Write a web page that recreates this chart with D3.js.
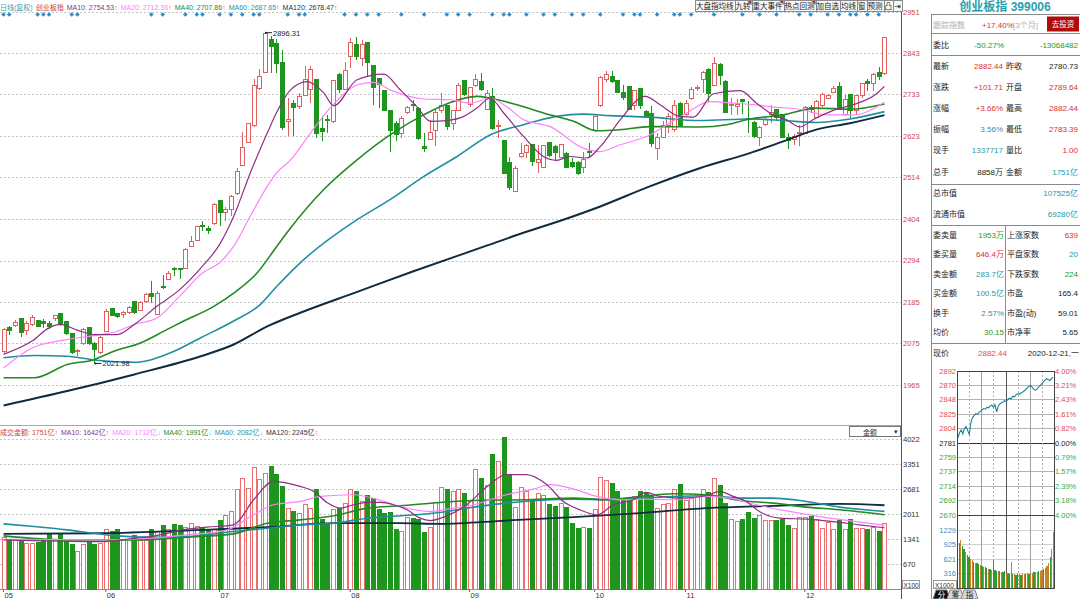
<!DOCTYPE html>
<html><head><meta charset="utf-8">
<script src="https://cdn.jsdelivr.net/npm/d3@7"></script>
<style>
html,body{margin:0;padding:0;background:#fff;overflow:hidden}
svg{display:block;font-family:'Liberation Sans','Noto Sans CJK SC',sans-serif}
</style></head><body>
<script>
// ---------------- 日K数据 2020-05-06 ~ 2020-12-21 ----------------
var opens=[2054,2116,2122,2141,2110,2125,2135,2133,2127,2142, 2154,2132,2101,2053,2074,2116,2075,2050,2107,2166,
 2154,2152,2156,2186,2163,2186,2206,2151,2226,2245, 2274,2273,2274,2332,2347,2386,2379,2391,2452,2421,
 2430,2472,2545,2607,2650,2748,2792,2879,2868,2817, 2662,2710,2702,2729,2745,2772,2642,2668,2662,2785,
 2747,2833,2866,2829,2870,2809,2776,2743,2691,2657, 2629,2685,2706,2697,2596,2615,2638,2691,2703,2655,
 2691,2770,2706,2758,2767,2692,2728,2648,2611,2552, 2477,2569,2580,2600,2553,2541,2606,2595,2567,2576,
 2553,2553,2541,2582,2638,2703,2772,2780,2770,2738, 2754,2703,2748,2688,2682,2589,2620,2650,2640,2710,
 2679,2723,2749,2772,2800,2757,2813,2766,2704,2701, 2719,2670,2659,2618,2653,2679,2692,2679,2619,2615,
 2629,2631,2699,2673,2703,2723,2738,2754,2679,2732, 2691,2729,2766,2761,2791,2789.64];
var highs=[2115,2120,2138,2142,2134,2149,2138,2140,2134,2151, 2156,2134,2103,2059,2116,2119,2078,2094,2166,2169,
 2156,2160,2173,2188,2186,2208,2239,2213,2257,2266, 2276,2274,2327,2360,2386,2399,2384,2446,2455,2435,
 2468,2538,2633,2657,2773,2800,2896.31,2888,2880,2851, 2723,2719,2736,2807,2809,2773,2675,2679,2772,2789,
 2820,2882,2885,2877,2873,2811,2776,2745,2692,2662, 2675,2703,2719,2699,2631,2666,2691,2738,2706,2692,
 2763,2772,2754,2787,2791,2745,2750,2666,2613,2569, 2543,2604,2603,2603,2600,2600,2608,2600,2603,2580,
 2565,2556,2580,2604,2677,2782,2796,2796,2772,2758, 2756,2745,2750,2691,2703,2631,2662,2684,2719,2714,
 2719,2754,2758,2794,2802,2831,2816,2770,2723,2721, 2721,2717,2662,2650,2673,2706,2694,2682,2631,2629,
 2653,2703,2706,2719,2738,2735,2756,2767,2732,2735, 2732,2763,2773,2791,2805,2882.44];
var lows=[2050,2098,2119,2092,2096,2122,2119,2116,2112,2134, 2120,2098,2046,2041,2072,2072,2021.98,2047,2105,2147,
 2142,2142,2154,2154,2160,2182,2182,2149,2219,2242, 2252,2245,2272,2330,2345,2371,2364,2389,2384,2399,
 2411,2468,2543,2604,2648,2745,2791,2791,2789,2640, 2622,2622,2695,2728,2710,2618,2609,2631,2657,2738,
 2745,2802,2824,2807,2780,2706,2697,2688,2582,2609, 2618,2682,2688,2613,2582,2613,2596,2684,2638,2640,
 2688,2729,2701,2754,2741,2691,2640,2618,2523,2481, 2475,2565,2565,2543,2525,2538,2569,2556,2565,2538,
 2538,2521,2525,2569,2635,2699,2767,2763,2736,2719, 2691,2691,2694,2670,2594,2560,2618,2631,2635,2647,
 2677,2719,2743,2736,2714,2756,2758,2684,2679,2679, 2682,2631,2618,2596,2650,2657,2666,2618,2589,2600,
 2596,2629,2684,2670,2699,2721,2736,2691,2677,2670, 2679,2723,2741,2741,2770,2783.39];
var closes=[2113,2110,2129,2105,2127,2144,2120,2127,2119,2149, 2125,2101,2050,2056,2113,2075,2059,2090,2160,2149,
 2145,2156,2169,2156,2184,2204,2198,2207,2222,2261, 2270,2271,2323,2345,2383,2383,2374,2442,2421,2428,
 2464,2530,2594,2655,2758,2780,2893,2861,2816,2647, 2666,2699,2728,2772,2800,2631,2636,2664,2770,2745,
 2796,2870,2833,2864,2817,2752,2760,2691,2638,2626, 2670,2699,2703,2616,2591,2633,2685,2703,2648,2691,
 2758,2732,2751,2773,2747,2735,2644,2651,2525,2486, 2538,2576,2597,2556,2560,2597,2571,2580,2601,2541,
 2543,2525,2560,2579,2675,2779,2787,2767,2738,2726, 2694,2743,2703,2675,2603,2620,2650,2675,2703,2650,
 2710,2745,2752,2791,2735,2816,2782,2685,2706,2706, 2715,2666,2622,2647,2668,2685,2673,2620,2611,2622,
 2633,2699,2692,2714,2732,2729,2750,2694,2721,2691, 2729,2761,2763,2787,2780.73,2882.44];
// 成交金额(亿)
var amounts=[1388,1316,1316,1271,1226,1208,1244,1298,1450,1316, 1495,1271,1181,1002,1181,1271,1181,1208,1603,1540,
 1585,1316,1316,1424,1298,1298,1603,1540,1702,1585, 1720,1702,1657,1765,1675,1657,1585,1603,1836,1962,
 2079,2680,2976,2707,3245,2931,3093,3290,3066,2752, 2168,2079,2034,2258,2168,2662,1854,1765,2124,2168,
 2303,2662,2617,2348,2500,2438,2124,2034,2052,1585, 1540,1926,1899,1854,1522,1657,2321,2734,2680,2617,
 2680,2572,2375,3200,2976,2770,3604,3425,4053,3066, 2195,2734,2617,2348,2572,2500,2258,2213,2285,2186,
 1747,1630,1657,1612,2141,3003,2913,2823,2617,2393, 2438,2482,2617,2554,2482,2168,2258,2285,2680,2796,
 2375,2438,2482,2680,2590,2976,2770,2285,1872,1809, 1854,2052,1899,1962,1836,1836,1836,1873,1694,1631,
 1918,1918,1945,1873,1631,1784,1586,1837,1586,1873, 1631,1613,1586,1658,1541,1751];

// 均线 [K线序号, 值]
var ma10=[[0,2046],[5,2081],[8,2116],[10,2125],[13,2110],[16,2098],[20,2098],[23,2125],[27,2173],[31,2217],[35,2279],[38,2336],[40.5,2411],[43.4,2525],[46.4,2631],[48,2684],[50.5,2745],[53.4,2767],[56.3,2738],[58.1,2703],[62.2,2772],[66.9,2787],[69.8,2745],[72.7,2701],[75.1,2662],[78,2664],[81,2675],[83.3,2697],[85.6,2723],[88,2684],[91.5,2622],[95,2569],[97.3,2559],[99.7,2569],[102.6,2565],[105,2595],[108.5,2666],[112.9,2728],[115.5,2706],[119,2675],[121.4,2673],[124.9,2735],[129.6,2743],[132.5,2710],[135.4,2679],[137.8,2666],[140.1,2647],[142.4,2666],[146,2691],[149.5,2706],[153.6,2735],[155,2754.53]];
var ma20=[[0,2010],[5,2063],[11,2085],[17,2098],[20,2107],[23,2125],[27,2142],[31,2200],[35,2261],[38,2288],[40.5,2332],[43.4,2411],[46.4,2490],[48,2525],[50.5,2560],[54,2631],[58,2706],[62.2,2758],[65.1,2765],[68,2745],[73.9,2721],[78.6,2719],[82.1,2710],[85.6,2723],[88.5,2701],[91.5,2666],[96.2,2648],[102,2591],[105,2582],[108.5,2600],[113.7,2626],[116.7,2653],[120.2,2684],[124.3,2714],[128.4,2710],[132,2706],[136,2699],[140.1,2694],[144.8,2679],[149.5,2679],[155,2712.36]];
var ma40=[[0,1984],[5.4,1984],[11.2,2019],[15.9,2032],[19.4,2054],[24.1,2076],[28.8,2112],[31.7,2134],[37,2173],[40.5,2208],[44.6,2261],[48.1,2332],[50.5,2380],[56.3,2481],[62.2,2560],[68,2626],[73.9,2679],[78.6,2712],[83.3,2728],[85.6,2723],[90.3,2706],[95,2684],[100.3,2662],[104.4,2637],[108.5,2640],[113.7,2648],[122.5,2647],[127.2,2653],[131.3,2668],[137.2,2679],[143,2697],[148.9,2694],[155,2707.86]];
var ma60=[[0,2037],[5.4,2043],[11.2,2041],[16,2031],[23,2025],[26,2032],[30,2054],[34.7,2090],[40.5,2134],[45.2,2178],[48.1,2226],[52.2,2288],[62.2,2402],[68,2455],[73.9,2516],[79.8,2569],[85.6,2626],[91.5,2653],[97.3,2675],[102,2681],[106.7,2677],[113.7,2673],[122.5,2664],[131.3,2668],[137.2,2664],[143,2659],[148.9,2668],[155,2687.65]];
var ma120=[[0,1911],[11.2,1949],[23,1993],[34.7,2041],[40.5,2072],[46.4,2120],[52.2,2156],[62,2210],[72,2265],[84,2328],[92,2370],[98.5,2402],[105,2437],[113.7,2490],[122.5,2538],[131.3,2578],[137.2,2609],[143,2640],[148.9,2657],[155,2678.47]];
var volMa10=[[0,1316],[17,1271],[23,1361],[25.9,1406],[32.3,1603],[35.8,1657],[40.5,1720],[44,2393],[47.5,2886],[49.9,2841],[52.2,2752],[54.6,2617],[56.9,2321],[59.3,2168],[61.6,2258],[64,2321],[66.3,2321],[68.6,2258],[71,2124],[73.3,1899],[75.1,1836],[78,1962],[81.5,2258],[85,2734],[88.5,3066],[92,3066],[95.6,2796],[98.5,2348],[101.4,2124],[104.4,1989],[107.3,2258],[110.8,2393],[113,2590],[115.5,2482],[119,2438],[123.7,2500],[126,2617],[128.4,2482],[130.7,2348],[133,2079],[136.6,1899],[141.3,1872],[146,1809],[150.6,1720],[155,1642]];
var volMa20=[[0,1334],[17,1316],[25.9,1361],[32.3,1450],[39.3,1585],[44,1989],[47.5,2258],[52.2,2348],[55.7,2482],[61.6,2527],[66.9,2348],[69.8,2213],[75.1,2079],[78,2140],[82.7,2258],[88.5,2527],[93.2,2680],[96.2,2796],[100.3,2680],[104.4,2482],[109,2393],[113.1,2411],[117.8,2393],[123.7,2482],[127.8,2438],[132.5,2258],[138.3,2079],[144.2,1926],[150,1809],[155,1712]];
var volMa40=[[0,1424],[11.2,1316],[23,1316],[32.3,1388],[40.5,1477],[46.4,1765],[52.2,1854],[58.1,1962],[64,2168],[69.8,2231],[76.8,2321],[82.7,2375],[91.5,2393],[100.3,2438],[106.1,2393],[112,2482],[117.8,2554],[123.7,2527],[129.5,2375],[135.4,2303],[141.3,2195],[147.1,2124],[155,1991]];
var volMa60=[[0,1747],[5.4,1675],[11.2,1585],[15.9,1495],[20,1424],[25.9,1388],[32.3,1406],[40.5,1540],[46.4,1630],[52.2,1720],[58.1,1765],[64,1899],[69.8,1962],[76.8,2052],[82.7,2195],[91.5,2348],[100.3,2411],[106.1,2393],[112,2438],[117.8,2482],[123.7,2500],[129.5,2438],[135.4,2438],[141.3,2348],[147.1,2195],[155,2082]];
var volMa120=[[0,1477],[17,1495],[34.7,1585],[46.4,1657],[58.1,1765],[69.8,1765],[76.8,1747],[88.5,1836],[100.3,1926],[112,2034],[123.7,2168],[135.4,2231],[147.1,2285],[155,2245]];

var priceTicks=[1965,2075,2185,2294,2404,2514,2623,2733,2843,2951];
var volTicks=[670,1341,2011,2681,3351,4022];
var monthStart=[0,18,38,61,82,104,120,141];
var monthLabels=['05','06','07','08','09','10','11','12'];
var eventIdx=[0,1,6,7,8,12,13,26,28,32,34,35,38,40,42,44,45,50,52,53,60,62,64,66,70,74,78,80,82,86,88,89,92,95,97,100,102,105,109,111,112,115,118,119,121,125,130,133,136,140,142,145,147,149,150,152,154];

// 分时 (每4分钟)
var preClose=2780.73;
var intraPx=[2789,2797,2801,2795,2803,2806,2800,2794,2812,2820, 2823,2826,2825,2828,2830,2832,2834,2833,2836,2835,
 2838,2839,2836,2840,2829,2838,2841,2843,2844,2846, 2845,2848,2850,2849,2853,2852,2855,2857,2856,2858,
 2859,2861,2863,2866,2868,2870,2867,2864,2862,2864, 2867,2869,2872,2875,2878,2880,2879,2877,2880,2882.44];
var intraVol=[1050,960,1010,880,820,760,700,660,620,590, 560,540,520,500,480,470,450,440,430,410,
 400,390,600,380,370,360,350,340,330,350, 320,310,300,560,300,290,280,300,290,280,
 290,300,290,310,300,320,310,330,340,330, 350,360,380,400,430,470,540,650,820,1180];
var intraUp=[1,0,1,0,0,1,0,0,1,1,0,1,0,0,1,0,1,0,0,1,0,1,0,0,0,1,0,1,0,0,1,0,0,1,0,1,0,0,1,0,1,1,0,1,0,1,1,0,1,1,0,1,1,0,1,1,1,0,1,1];
var intraTicks=[2892,2870,2848,2825,2804,2781,2759,2737,2714,2692,2670];
var intraPct=['4.00%','3.21%','2.43%','1.61%','0.82%','0.00%','0.79%','1.57%','2.39%','3.18%','4.00%'];
var intraVolTicks=[316,621,925,1229];

var RED='#e0605f', GRN='#1e961e', TXT='#1a1a1a', TEAL='#2a96a8', RD='#d83030', GN='#1e9a1e';

var svg=d3.select('body').append('svg').attr('width',1080).attr('height',599);

function txt(g,x,y,s,col,size,anchor){
	return g.append('text').attr('x',x).attr('y',y).attr('fill',col||TXT)
		.attr('font-size',size||8).attr('text-anchor',anchor||'start').text(s);
}
function hline(x1,x2,yy,col,dash,w){
	var l=svg.append('line').attr('x1',x1).attr('x2',x2).attr('y1',yy).attr('y2',yy)
		.attr('stroke',col||'#999').attr('stroke-width',w||1).attr('shape-rendering','crispEdges');
	if(dash) l.attr('stroke-dasharray',dash);
	return l;
}
function vline(xx,y1,y2,col,dash,w){
	var l=svg.append('line').attr('x1',xx).attr('x2',xx).attr('y1',y1).attr('y2',y2)
		.attr('stroke',col||'#999').attr('stroke-width',w||1).attr('shape-rendering','crispEdges');
	if(dash) l.attr('stroke-dasharray',dash);
	return l;
}

//---------------------------- scales ----------------------------
var n=closes.length, idx=d3.range(n);
var x=d3.scaleBand().domain(idx).range([0,888]).padding(0.25);
var xc=d3.scaleLinear().domain([0,n-1]).range([x(0)+x.bandwidth()/2, x(n-1)+x.bandwidth()/2]);
var y=d3.scaleLinear().domain([1965,2951]).range([385,12]);
var yv=d3.scaleLinear().domain([0,4022]).range([589,439]);

//---------------------------- grid ----------------------------
svg.append('g').selectAll('line').data(priceTicks).join('line')
	.attr('x1',0).attr('x2',901).attr('y1',function(d){return Math.round(y(d))+0.5}).attr('y2',function(d){return Math.round(y(d))+0.5})
	.attr('stroke','#c4c4c4').attr('stroke-dasharray','2,2');
svg.append('g').selectAll('line').data(volTicks).join('line')
	.attr('x1',0).attr('x2',901).attr('y1',function(d){return Math.round(yv(d))+0.5}).attr('y2',function(d){return Math.round(yv(d))+0.5})
	.attr('stroke','#c4c4c4').attr('stroke-dasharray','2,2');

hline(0,901,425.5,'#a8a8a8');
hline(0,901,589.5,'#8a8a8a');
vline(901.5,0,599,'#555');
vline(931.5,14,599,'#8a8a8a');

//---------------------------- K线 ----------------------------
var gK=svg.append('g').attr('shape-rendering','crispEdges');
idx.forEach(function(i){
	var up=closes[i]>=opens[i], col=up?RED:GRN;
	var cx=Math.round(xc(i))+0.5;
	gK.append('line').attr('x1',cx).attr('x2',cx).attr('y1',y(highs[i])).attr('y2',y(lows[i])).attr('stroke',col);
	var top=y(Math.max(opens[i],closes[i])), bot=y(Math.min(opens[i],closes[i]));
	gK.append('rect').attr('x',cx-2).attr('y',top).attr('width',4).attr('height',Math.max(1,bot-top))
		.attr('fill',up?'#fff':GRN).attr('stroke',col);
});

// 事件标记
svg.append('g').selectAll('path').data(eventIdx).join('path')
	.attr('d',d3.symbol(d3.symbolSquare,11))
	.attr('transform',function(d){return 'translate('+xc(d)+',14.5) rotate(45)'})
	.attr('fill','#2a8fd0');

//---------------------------- 均线 ----------------------------
function maLine(data,sy,col,w){
	svg.append('path').datum(data)
		.attr('d',d3.line().x(function(d){return xc(d[0])}).y(function(d){return sy(d[1])}).curve(d3.curveMonotoneX))
		.attr('fill','none').attr('stroke',col).attr('stroke-width',w);
}
maLine(ma120,y,'#0e2b40',2);
maLine(ma60,y,'#1f8fa0',1.6);
maLine(ma40,y,'#228a22',1.6);
maLine(ma20,y,'#ff80ff',1.2);
maLine(ma10,y,'#8e2f84',1.2);

// 最高/最低标注
var iH=highs.indexOf(d3.max(highs)), iL=lows.indexOf(d3.min(lows));
[[iH,highs[iH]],[iL,lows[iL]]].forEach(function(p){
	var px=xc(p[0]), py=y(p[1]);
	svg.append('line').attr('x1',px).attr('x2',px+7).attr('y1',py).attr('y2',py).attr('stroke','#222');
	svg.append('circle').attr('cx',px+1).attr('cy',py).attr('r',1).attr('fill','#222');
	txt(svg,px+8,py+3,p[1].toFixed(2),'#222',7.5);
});

//---------------------------- 成交额 ----------------------------
var gV=svg.append('g').attr('shape-rendering','crispEdges');
idx.forEach(function(i){
	var up=closes[i]>=opens[i];
	var cx=Math.round(xc(i))+0.5;
	gV.append('rect').attr('x',cx-2).attr('y',yv(amounts[i])).attr('width',4).attr('height',yv(0)-yv(amounts[i]))
		.attr('fill',up?'#fff':GRN).attr('stroke',up?'#e87070':GRN);
});
maLine(volMa120,yv,'#0e2b40',1.8);
maLine(volMa60,yv,'#1f8fa0',1.6);
maLine(volMa40,yv,'#228a22',1.6);
maLine(volMa20,yv,'#ff80ff',1.2);
maLine(volMa10,yv,'#8e2f84',1.2);

//---------------------------- 坐标轴 ----------------------------
var aP=svg.append('g').attr('transform','translate(901,0)')
	.call(d3.axisRight(y).tickValues(priceTicks).tickSize(0).tickPadding(2).tickFormat(d3.format('d')));
aP.select('.domain').remove();
aP.selectAll('text').attr('fill','#d04848').attr('font-size',7.5).attr('font-family',null);

var aV=svg.append('g').attr('transform','translate(901,0)')
	.call(d3.axisRight(yv).tickValues(volTicks).tickSize(0).tickPadding(2).tickFormat(d3.format('d')));
aV.select('.domain').remove();
aV.selectAll('text').attr('fill','#333').attr('font-size',7.5).attr('font-family',null);
svg.append('rect').attr('x',902.5).attr('y',580.5).attr('width',17).attr('height',8).attr('fill','#fff').attr('stroke','#999');
txt(svg,903.5,587.5,'X100','#333',6.5);

var aX=svg.append('g').attr('transform','translate(0,589)')
	.call(d3.axisBottom(x).tickValues(monthStart).tickSize(3).tickPadding(1).tickFormat(function(d,i){return monthLabels[i]}));
aX.select('.domain').remove();
aX.selectAll('line').attr('stroke','#666');
aX.selectAll('text').attr('text-anchor','start').attr('x',1).attr('fill','#333').attr('font-size',7.5).attr('font-family',null);

// 金额 下拉
svg.append('rect').attr('x',849.5).attr('y',426.5).attr('width',51).attr('height',10).attr('fill','#fff').attr('stroke','#777');
txt(svg,870,434.5,'金额','#333',7,'middle');
txt(svg,896,434,'▾','#333',7,'middle');

//---------------------------- 图例 ----------------------------
function legend(x0,y0,items){
	var t=svg.append('text').attr('x',x0).attr('y',y0).attr('font-size',7);
	items.forEach(function(it,k){
		t.append('tspan').attr('fill',it[1]).attr('dx',k?3:0).text(it[0]);
		if(it[2]) t.append('tspan').attr('fill',it[3]).text(it[2]);
	});
}
legend(0,9.5,[['日线(复权)','#3a9db0'],['创业板指','#d04040'],['MA10: 2754.53','#8e3388','↑','#e04a4a'],
	['MA20: 2712.36','#ff80ff','↑','#e04a4a'],['MA40: 2707.86','#2a8a2a','↑','#e04a4a'],
	['MA60: 2687.65','#2a93a5','↑','#e04a4a'],['MA120: 2678.47','#1c3448','↑','#e04a4a']]);
legend(0,435,[['成交金额: 1751亿','#d04040','↑','#e04a4a'],['MA10: 1642亿','#8e3388','↑','#e04a4a'],
	['MA20: 1712亿','#ff80ff','↓','#20c8d8'],['MA40: 1991亿','#2a8a2a','↓','#20c8d8'],
	['MA60: 2082亿','#2a93a5','↓','#20c8d8'],['MA120: 2245亿','#1c3448','↑','#e04a4a']]);

//---------------------------- 工具条 ----------------------------
var tools=['大盘指均线','九转','重大事件','热点回测','加自选','均线','窗','预测','凸','⇥'];
var toolMark=[0,1,1,1,0,0,0,0,0,0];
var gT=svg.append('g'), tw=[];
tools.forEach(function(s){
	var t=gT.append('text').attr('font-size',7.5).text(s);
	tw.push(t.node().getComputedTextLength()+2); t.remove();
});
var tx=902-d3.sum(tw);
tools.forEach(function(s,k){
	gT.append('rect').attr('x',Math.round(tx)+0.5).attr('y',0.5).attr('width',Math.round(tw[k])).attr('height',11)
		.attr('fill','#f7f7f7').attr('stroke','#8a8a8a').attr('shape-rendering','crispEdges');
	txt(gT,tx+tw[k]/2,9,s,'#222',7.5,'middle');
	if(toolMark[k]) gT.append('path').attr('d','M'+(tx+tw[k]-4)+',1L'+(tx+tw[k])+',1L'+(tx+tw[k])+',5Z').attr('fill','#d02020');
	tx+=tw[k];
});

//---------------------------- 右侧行情 ----------------------------
txt(svg,1005,11,'创业板指 399006','#2a9fb0',12,'middle').attr('font-weight','bold');
hline(931,1080,14.5,'#8a8a8a');
txt(svg,933,28,'跟踪指数','#b0b0b0',8);
txt(svg,982,28,'+17.40%',RD,8);
txt(svg,1013,28,'[3个月]','#b0b0b0',8);
svg.append('rect').attr('x',1047).attr('y',16.5).attr('width',32).attr('height',15).attr('fill','#b00c0c');
txt(svg,1063,27,'去投资','#fff',7.5,'middle');
hline(931,1080,33.5,'#8a8a8a');
txt(svg,933,48,'委比',TXT,8);
txt(svg,1004,48,'-50.27%',GN,8,'end');
txt(svg,1078,48,'-13068482',GN,8,'end');
hline(931,1080,55.5,'#8a8a8a');

var infoA=[['最新','2882.44',RD,'昨收','2780.73',TXT],['涨跌','+101.71',RD,'开盘','2789.64',RD],
	['涨幅','+3.66%',RD,'最高','2882.44',RD],['振幅','3.56%',TEAL,'最低','2783.39',RD],
	['现手','1337717',TEAL,'量比','1.00',RD],['总手','8858万',TXT,'金额','1751亿',TEAL]];
infoA.forEach(function(r,k){
	var yy=69+k*21.1;
	txt(svg,933,yy,r[0]); txt(svg,1003,yy,r[1],r[2],8,'end');
	txt(svg,1006,yy,r[3]); txt(svg,1078,yy,r[4],r[5],8,'end');
});
hline(931,1080,184.5,'#8a8a8a');
var infoB=[['总市值','107525亿',TEAL],['流通市值','69280亿',TEAL]];
infoB.forEach(function(r,k){
	var yy=196+k*21;
	txt(svg,933,yy,r[0]); txt(svg,1078,yy,r[1],r[2],8,'end');
});
hline(931,1080,225.5,'#8a8a8a');
var infoC=[['委卖量','1953万',GN,'上涨家数','639',RD],['委买量','646.4万',RD,'平盘家数','20',TEAL],
	['卖金额','283.7亿',TEAL,'下跌家数','224',GN],['买金额','100.5亿',TEAL,'市盈','165.4',TXT],
	['换手','2.57%',TEAL,'市盈(动)','59.01',TXT],['均价','30.15',GN,'市净率','5.65',TXT]];
infoC.forEach(function(r,k){
	var yy=237.5+k*19.5;
	txt(svg,933,yy,r[0]); txt(svg,1004,yy,r[1],r[2],8,'end');
	txt(svg,1007,yy,r[3]); txt(svg,1078,yy,r[4],r[5],8,'end');
});
vline(1005.5,225,343,'#8a8a8a');
hline(931,1080,343.5,'#8a8a8a');
txt(svg,933,356,'现价',TXT,8);
txt(svg,978,356,'2882.44','#e05050',8);
txt(svg,1079,356,'2020-12-21,一',TXT,8,'end');

//---------------------------- 分时 ----------------------------
var IX0=957, IX1=1054, IT=371, IB=515, IVB=588;
var yI=d3.scaleLinear().domain([preClose*0.96,preClose*1.04]).range([IB,IT]);
var yIV=d3.scaleLinear().domain([0,1229]).range([IVB,530]);
var xI=d3.scaleLinear().domain([0,intraPx.length-1]).range([IX0+1,IX1-1]);
var xIB=d3.scaleBand().domain(d3.range(intraVol.length)).range([IX0,IX1]).paddingInner(0.25);

intraTicks.forEach(function(v){
	hline(IX0,IX1,Math.round(yI(v))+0.5,v==2781?'#333':'#b4b4b4');
});
intraVolTicks.forEach(function(v){ hline(IX0,IX1,Math.round(yIV(v))+0.5,'#d0d0d0'); });
d3.range(1,8).forEach(function(k){
	var xx=Math.round(IX0+k*(IX1-IX0)/8)+0.5;
	if(k%2) vline(xx,IT,IVB,'#b0b0b0','2,2');
	else vline(xx,IT,IVB,k==4?'#555':'#a0a0a0');
});
svg.append('g').attr('shape-rendering','crispEdges').selectAll('rect').data(intraVol).join('rect')
	.attr('x',function(d,i){return xIB(i)}).attr('width',xIB.bandwidth())
	.attr('y',function(d){return yIV(d)}).attr('height',function(d){return IVB-yIV(d)})
	.attr('fill',function(d,i){return intraUp[i]?'#c8822a':'#2f9a2f'});
svg.append('path').datum(intraPx)
	.attr('d',d3.line().x(function(d,i){return xI(i)}).y(function(d){return yI(d)}))
	.attr('fill','none').attr('stroke','#1a8595').attr('stroke-width',1.1);
svg.append('rect').attr('x',IX0+0.5).attr('y',IT+0.5).attr('width',IX1-IX0).attr('height',IVB-IT)
	.attr('fill','none').attr('stroke','#444').attr('shape-rendering','crispEdges');
hline(IX0,IX1,IB+0.5,'#444');

var aIL=svg.append('g').attr('transform','translate('+IX0+',0)')
	.call(d3.axisLeft(yI).tickValues(intraTicks).tickSize(0).tickPadding(1).tickFormat(d3.format('d')));
aIL.select('.domain').remove();
aIL.selectAll('text').attr('font-size',7.5).attr('font-family',null)
	.attr('fill',function(d){return d>2781?'#e05050':(d<2781?'#3aaa3a':'#222')});
var aIR=svg.append('g').attr('transform','translate('+IX1+',0)')
	.call(d3.axisRight(yI).tickValues(intraTicks).tickSize(0).tickPadding(1).tickFormat(function(d,i){return intraPct[i]}));
aIR.select('.domain').remove();
aIR.selectAll('text').attr('font-size',7.5).attr('font-family',null)
	.attr('fill',function(d){return d>2781?'#e05050':(d<2781?'#3aaa3a':'#222')});
var aIV=svg.append('g').attr('transform','translate('+IX0+',0)')
	.call(d3.axisLeft(yIV).tickValues(intraVolTicks).tickSize(0).tickPadding(1).tickFormat(d3.format('d')));
aIV.select('.domain').remove();
aIV.selectAll('text').attr('font-size',7.5).attr('font-family',null).attr('fill','#3a8fc0');
svg.append('rect').attr('x',933.5).attr('y',580.5).attr('width',23).attr('height',8).attr('fill','#fff').attr('stroke','#999');
txt(svg,935,587.5,'X1000','#333',6.5);

// 底部标签
var tabs=['分','筹','指'];
tabs.forEach(function(s,k){
	var x0=933+k*14;
	svg.append('path').attr('d','M'+x0+',599L'+(x0+3)+',590L'+(x0+14)+',590L'+(x0+17)+',599Z')
		.attr('fill',k?'#d8d8d8':'#111').attr('stroke','#888');
	txt(svg,x0+8.5,597.5,s,k?'#222':'#fff',7.5,'middle');
});
</script>
</body></html>
